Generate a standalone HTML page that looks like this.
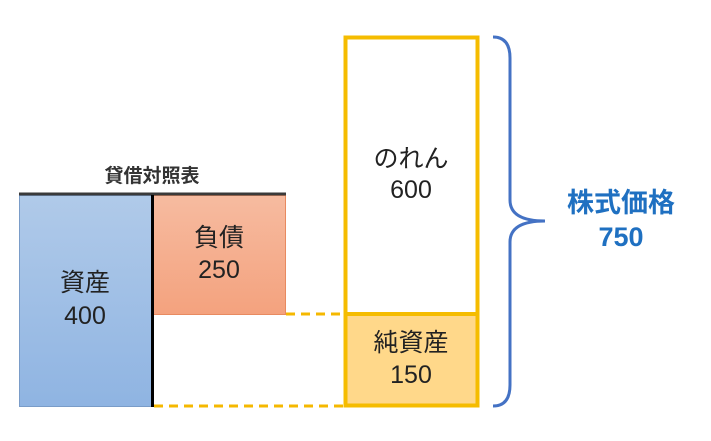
<!DOCTYPE html>
<html><head><meta charset="utf-8"><style>
body{margin:0;background:#fff;width:711px;height:441px;overflow:hidden}
svg{display:block}
text{font-family:"Liberation Sans","Noto Sans CJK JP",sans-serif}
</style></head><body>
<svg width="711" height="441" viewBox="0 0 711 441">
<defs>
<linearGradient id="gb" x1="0" y1="0" x2="0" y2="1"><stop offset="0" stop-color="#B0CAE9"/><stop offset="1" stop-color="#8FB4E2"/></linearGradient>
<linearGradient id="go" x1="0" y1="0" x2="0" y2="1"><stop offset="0" stop-color="#F6BBA0"/><stop offset="1" stop-color="#F4A27E"/></linearGradient>
</defs>
<text x="152" y="182" font-size="19" font-weight="bold" fill="#333" text-anchor="middle">貸借対照表</text>
<rect x="19.5" y="195.5" width="132" height="211" fill="url(#gb)" stroke="#7A9CC8" stroke-width="1"/>
<rect x="153.5" y="195.5" width="132" height="119" fill="url(#go)" stroke="#E88A60" stroke-width="1"/>
<line x1="19" y1="194" x2="286" y2="194" stroke="#3a3a3a" stroke-width="3"/>
<line x1="152.5" y1="195" x2="152.5" y2="407" stroke="#000" stroke-width="3"/>
<line x1="286" y1="314" x2="344" y2="314" stroke="#F5B800" stroke-width="3" stroke-dasharray="9,6"/>
<line x1="154" y1="406" x2="344" y2="406" stroke="#F5B800" stroke-width="3" stroke-dasharray="9,6"/>
<rect x="346" y="314" width="130" height="92" fill="#FFD88A"/>
<rect x="345.5" y="37.5" width="132" height="368" fill="none" stroke="#F5BC00" stroke-width="4"/>
<line x1="345" y1="314" x2="478" y2="314" stroke="#F5BC00" stroke-width="4"/>
<path d="M493 37 Q510 37 510 58 L510 200 Q510 221 545 221 Q510 221 510 242 L510 385 Q510 406 493 406" fill="none" stroke="#4472C4" stroke-width="3"/>
<g font-size="25" fill="#222" text-anchor="middle">
<text x="85" y="291">資産</text><text x="85" y="324">400</text>
<text x="219" y="246">負債</text><text x="219" y="278">250</text>
<text x="411" y="167">のれん</text><text x="411" y="198">600</text>
<text x="411" y="351">純資産</text><text x="411" y="383">150</text>
</g>
<g font-size="27" font-weight="bold" fill="#1F70C1" text-anchor="middle">
<text x="621" y="212">株式価格</text><text x="621" y="246">750</text>
</g>
</svg>
</body></html>
